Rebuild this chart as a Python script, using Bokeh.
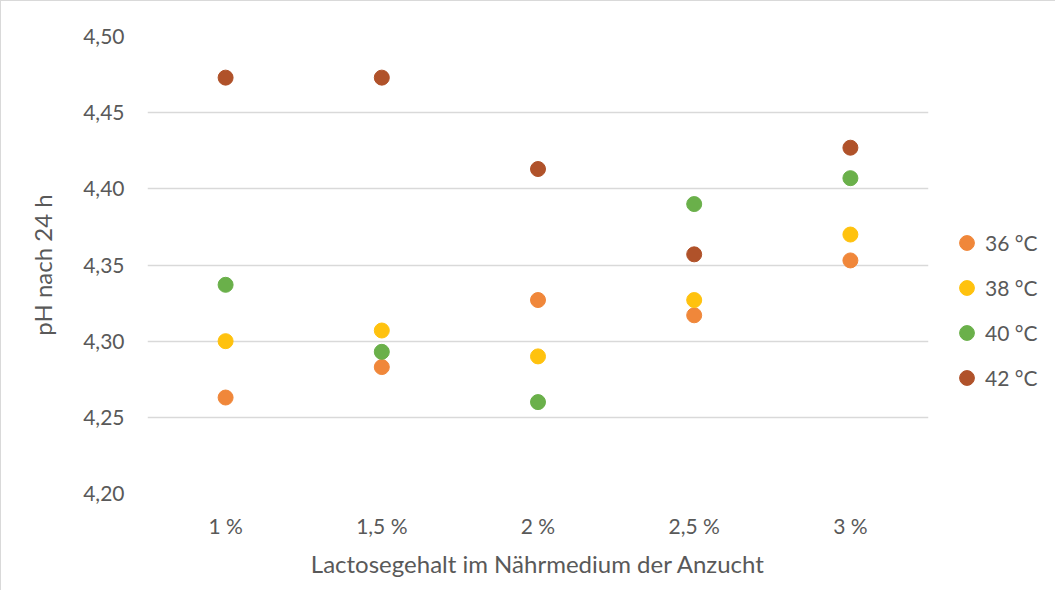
from bokeh.plotting import figure
from bokeh.models import FactorRange, Range1d, CustomJSTickFormatter, FixedTicker, Legend, LegendItem
from bokeh.embed import file_html
from bokeh.resources import INLINE

categories = ["1 %", "1,5 %", "2 %", "2,5 %", "3 %"]
series_names = ["36 °C", "38 °C", "40 °C", "42 °C"]
ph_36 = [4.263, 4.283, 4.327, 4.317, 4.353]
ph_38 = [4.300, 4.307, 4.290, 4.327, 4.370]
ph_40 = [4.337, 4.293, 4.260, 4.390, 4.407]
ph_42 = [4.473, 4.473, 4.413, 4.357, 4.427]
y_ticks = [4.20, 4.25, 4.30, 4.35, 4.40, 4.45, 4.50]
colors = ["#F0873A", "#FFC20E", "#6AB04A", "#B0522A"]

FONT = "Lato"
TXT = "#595959"

p = figure(
    x_range=FactorRange(*categories, range_padding=0),
    y_range=Range1d(4.20, 4.50),
    frame_width=781, frame_height=457,
    min_border_left=146, min_border_right=0, min_border_top=35, min_border_bottom=97,
    output_backend="svg", toolbar_location=None,
)
p.styles = {"border-left": "1px solid #D9D9D9", "border-top": "1px solid #D9D9D9"}
p.outline_line_color = None
p.background_fill_color = "white"
p.border_fill_color = "white"

# two invisible spacer entries keep the visible legend block below the frame's centre
spacer = p.scatter(x=[], y=[], size=15, fill_alpha=0, line_alpha=0)
items = [LegendItem(label="", renderers=[spacer]), LegendItem(label="", renderers=[spacer])]
for name, vals, c in zip(series_names, [ph_36, ph_38, ph_40, ph_42], colors):
    r = p.scatter(x=categories, y=vals, size=15, fill_color=c, line_color=c, marker="circle")
    items.append(LegendItem(label=name, renderers=[r]))

p.xgrid.grid_line_color = None
p.ygrid.grid_line_color = "#D9D9D9"
p.ygrid.grid_line_width = 1.5
p.yaxis.ticker = FixedTicker(ticks=y_ticks)
p.yaxis.formatter = CustomJSTickFormatter(code="return tick.toFixed(2).replace('.', ',');")

for ax in (p.xaxis[0], p.yaxis[0]):
    ax.axis_line_color = None
    ax.major_tick_line_color = None
    ax.minor_tick_line_color = None
    ax.major_label_text_font = FONT
    ax.major_label_text_font_size = "21px"
    ax.major_label_text_color = TXT
    ax.axis_label_text_font = FONT
    ax.axis_label_text_font_size = "24px"
    ax.axis_label_text_color = TXT
    ax.axis_label_text_font_style = "normal"

p.xaxis.axis_label = "Lactosegehalt im Nährmedium der Anzucht"
p.yaxis.axis_label = "pH nach 24 h"
p.yaxis.major_label_standoff = 17
p.xaxis.major_label_standoff = 13
p.xaxis.axis_label_standoff = 8
p.yaxis.axis_label_standoff = 23

legend = Legend(items=items, location="center_left", orientation="vertical",
                glyph_width=37, glyph_height=37, label_height=37, spacing=8,
                padding=0, margin=20, label_standoff=0,
                label_text_font=FONT, label_text_font_size="21px", label_text_color=TXT,
                border_line_color=None, background_fill_alpha=0)
p.add_layout(legend, "right")

open("out.html", "w").write(file_html(p, INLINE))
